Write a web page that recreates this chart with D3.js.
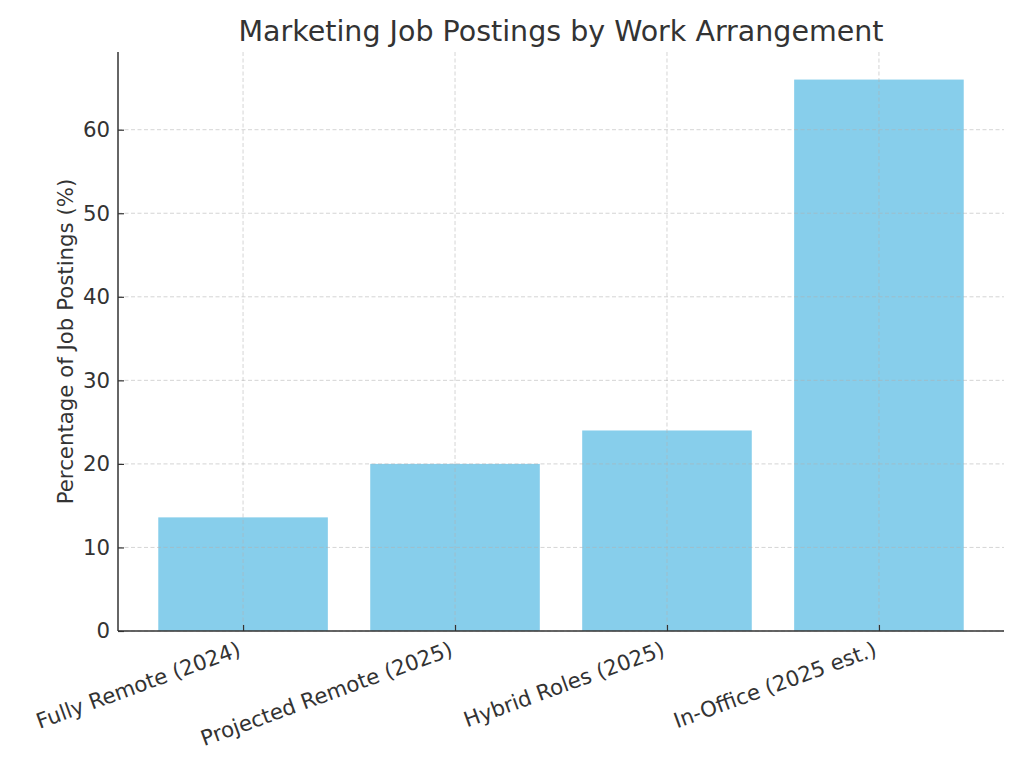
<!DOCTYPE html>
<html><head><meta charset="utf-8">
<script src="https://cdn.jsdelivr.net/npm/d3@7"></script>
<style>body{margin:0;background:#fff}svg{display:block}text{font-family:"DejaVu Sans",sans-serif}</style>
</head><body><svg id="c" width="1024" height="768"></svg>
<script>
const categories = ["Fully Remote (2024)", "Projected Remote (2025)", "Hybrid Roles (2025)", "In-Office (2025 est.)"];
const values = [13.6, 20, 24, 66];
const yTicks = [0, 10, 20, 30, 40, 50, 60];
const title = "Marketing Job Postings by Work Arrangement";
const yLabel = "Percentage of Job Postings (%)";

const svg = d3.select("#c");
const m = {left:118, right:1004, top:52, bottom:631};
const x = d3.scaleLinear().domain([-0.59, categories.length - 1 + 0.59]).range([m.left, m.right]);
const y = d3.scaleLinear().domain([0, d3.max(values) * 1.05]).range([m.bottom, m.top]);
const bw = x(0.4) - x(-0.4);

// bars
svg.append("g").selectAll("rect").data(values).join("rect")
  .attr("x", (d,i) => x(i) - bw/2).attr("width", bw)
  .attr("y", d => y(d)).attr("height", d => y(0) - y(d))
  .attr("fill", "#87CEEB");

// grid
const grid = svg.append("g").attr("stroke", "#b0b0b0").attr("stroke-opacity", 0.6).attr("stroke-dasharray", "4,2.5").attr("stroke-width", 0.9);
grid.selectAll("line.h").data(yTicks).join("line").attr("class","h")
  .attr("x1", m.left).attr("x2", m.right).attr("y1", d => y(d)).attr("y2", d => y(d));
grid.selectAll("line.v").data(categories).join("line").attr("class","v")
  .attr("x1", (d,i) => x(i)).attr("x2", (d,i) => x(i)).attr("y1", m.top).attr("y2", m.bottom);

// axes
const yAxis = d3.axisLeft(y).tickValues(yTicks).tickSize(-6).tickPadding(8).tickSizeOuter(0);
const gy = svg.append("g").attr("transform", `translate(${m.left},0)`).call(yAxis);
gy.select(".domain").remove();
gy.selectAll("line").attr("stroke", "#333").attr("stroke-width", 1.2);
gy.selectAll("text").attr("font-size", 21.3).attr("fill", "#333");

const xAxis = d3.axisBottom(x).tickValues(d3.range(categories.length)).tickFormat(i => categories[i]).tickSize(-6).tickSizeOuter(0);
const gx = svg.append("g").attr("transform", `translate(0,${m.bottom})`).call(xAxis);
gx.select(".domain").remove();
gx.selectAll("line").attr("stroke", "#333").attr("stroke-width", 1.2);
gx.selectAll("text").attr("font-size", 21.3).attr("fill", "#333")
  .attr("text-anchor", "end").attr("y", 0).attr("dy", "0.76em")
  .attr("transform", "translate(-7,9) rotate(-20)");

// spines
svg.append("line").attr("x1", m.left).attr("x2", m.left).attr("y1", m.top).attr("y2", m.bottom).attr("stroke", "#333").attr("stroke-width", 1.5);
svg.append("line").attr("x1", m.left).attr("x2", m.right).attr("y1", m.bottom).attr("y2", m.bottom).attr("stroke", "#333").attr("stroke-width", 1.5);

// title and label
svg.append("text").attr("x", (m.left + m.right)/2).attr("y", 41).attr("text-anchor", "middle")
  .attr("font-size", 28.5).attr("fill", "#333").text(title);
svg.append("text").attr("transform", `translate(73,${(m.top+m.bottom)/2}) rotate(-90)`).attr("text-anchor", "middle")
  .attr("font-size", 21.3).attr("fill", "#333").text(yLabel);
</script></body></html>
